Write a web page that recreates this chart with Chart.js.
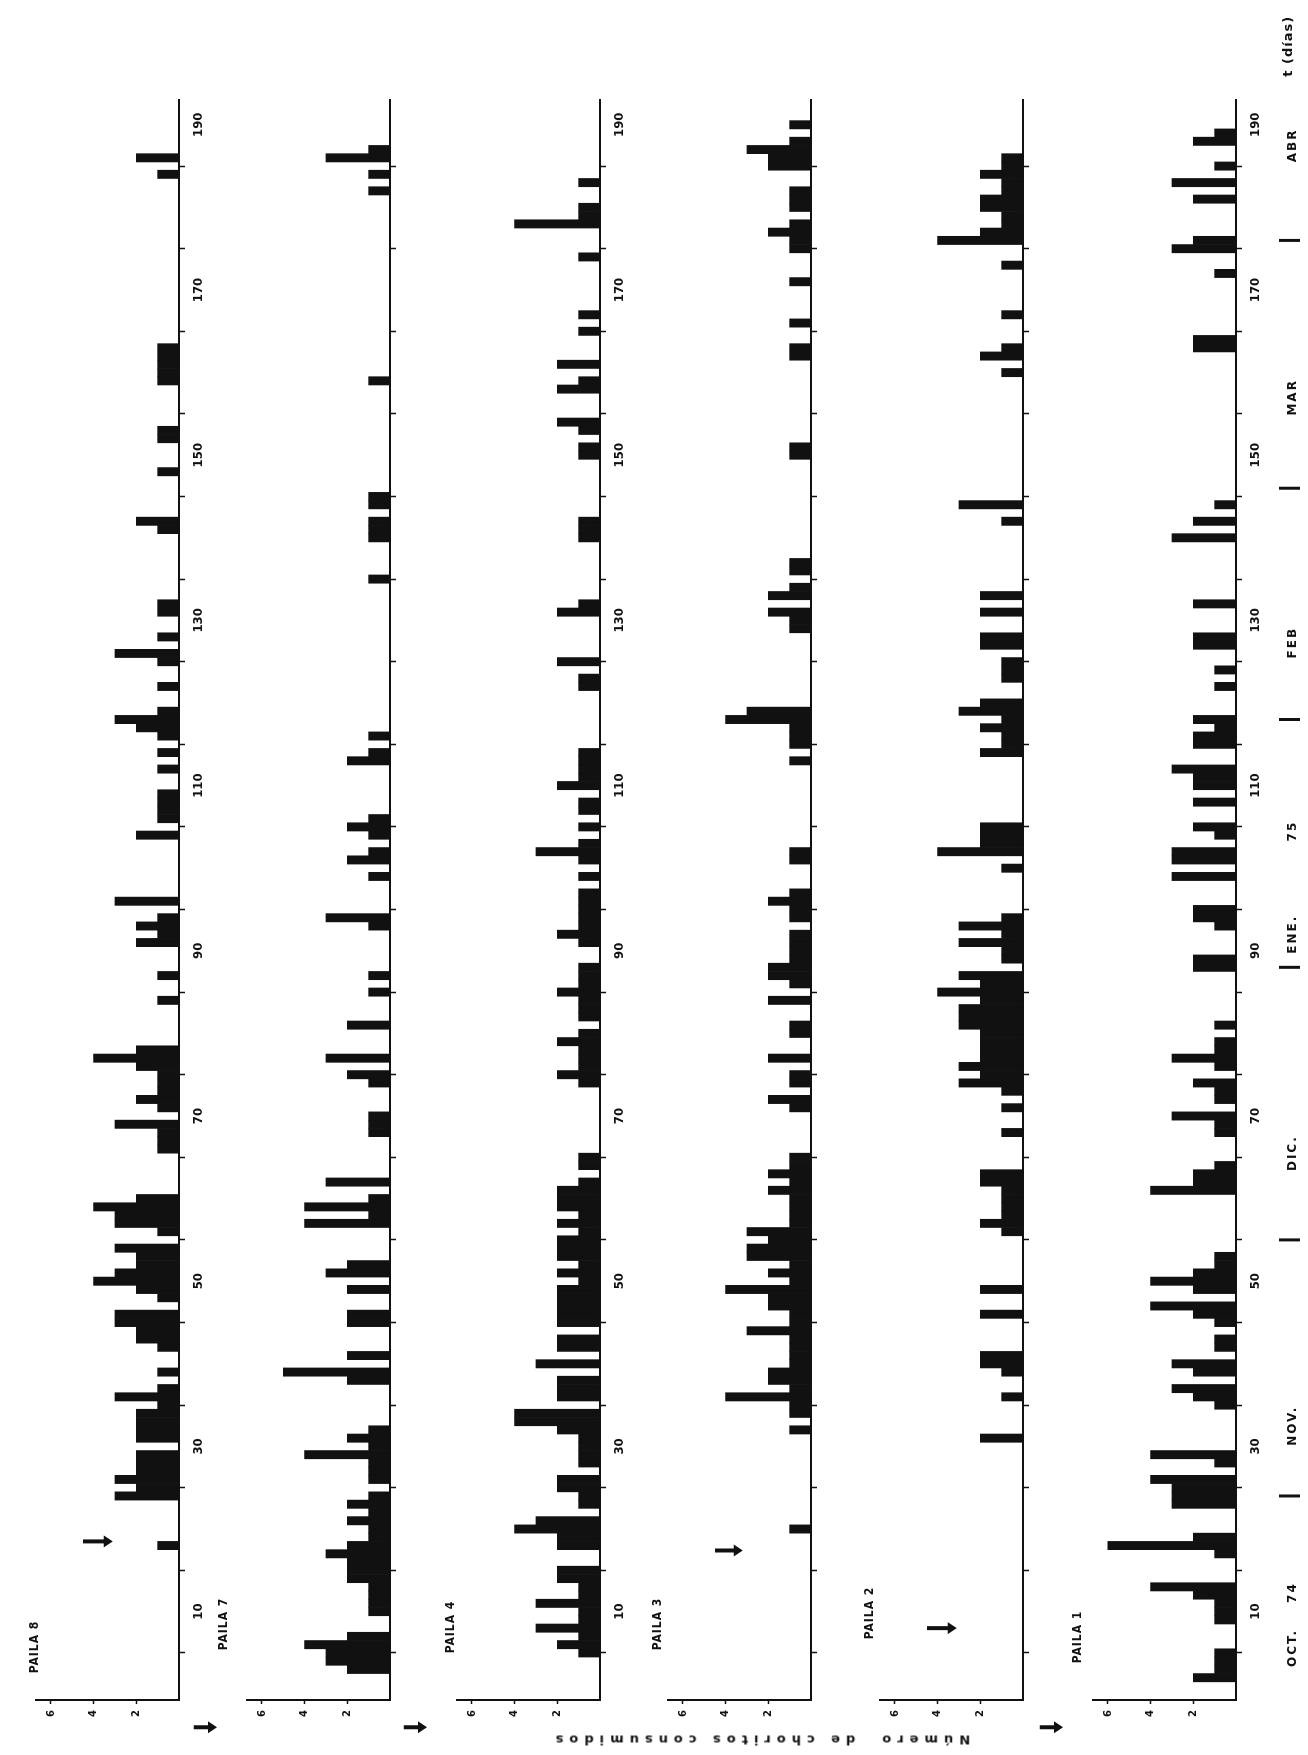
<!DOCTYPE html>
<html><head><meta charset="utf-8">
<script src="https://cdn.jsdelivr.net/npm/chart.js@4.4.0/dist/chart.umd.min.js"></script>
<style>
html,body{margin:0;padding:0;background:#fff;width:1308px;height:1755px;overflow:hidden;}
#frame{position:absolute;left:0;top:0;width:1755px;height:1308px;transform-origin:0 0;transform:translateY(1755px) rotate(-90deg);}
#frame canvas{position:absolute;left:0;}
.lbl{position:absolute;font:bold 12px "Liberation Sans Narrow","DejaVu Sans Condensed","DejaVu Sans",sans-serif;color:#111;white-space:nowrap;transform:translate(-50%,-50%);letter-spacing:1px;}
.ytitle{position:absolute;font:bold 13px "DejaVu Sans",sans-serif;color:#111;white-space:pre;letter-spacing:6px;transform:translate(-50%,-50%) rotate(-90deg);}
</style></head><body><div id="frame"></div>
<script>
// ---- data: [day, number of mussels consumed] ----
const paila8 = [[18,1],[24,3],[25,2],[26,3],[27,2],[28,2],[29,2],[31,2],[32,2],[33,2],[34,2],[35,1],[36,3],[37,1],[39,1],[42,1],[43,2],[44,2],[45,3],[46,3],[48,1],[49,2],[50,4],[51,3],[52,2],[53,2],[54,3],[56,1],[57,3],[58,3],[59,4],[60,2],[66,1],[67,1],[68,1],[69,3],[71,1],[72,2],[73,1],[74,1],[75,1],[76,2],[77,4],[78,2],[84,1],[87,1],[91,2],[92,1],[93,2],[94,1],[96,3],[104,2],[106,1],[107,1],[108,1],[109,1],[112,1],[114,1],[116,1],[117,2],[118,3],[119,1],[122,1],[125,1],[126,3],[128,1],[131,1],[132,1],[141,1],[142,2],[148,1],[152,1],[153,1],[159,1],[160,1],[161,1],[162,1],[163,1],[184,1],[186,2]];
const paila7 = [[3,2],[4,3],[5,3],[6,4],[7,2],[10,1],[11,1],[12,1],[13,1],[14,2],[15,2],[16,2],[17,3],[18,2],[19,1],[20,1],[21,2],[22,1],[23,2],[24,1],[26,1],[27,1],[28,1],[29,4],[30,1],[31,2],[32,1],[38,2],[39,5],[41,2],[45,2],[46,2],[49,2],[51,3],[52,2],[57,4],[58,1],[59,4],[60,1],[62,3],[68,1],[69,1],[70,1],[74,1],[75,2],[77,3],[81,2],[85,1],[87,1],[93,1],[94,3],[99,1],[101,2],[102,1],[104,1],[105,2],[106,1],[113,2],[114,1],[116,1],[135,1],[140,1],[141,1],[142,1],[144,1],[145,1],[159,1],[182,1],[184,1],[186,3],[187,1]];
const paila4 = [[5,1],[6,2],[7,1],[8,3],[9,1],[10,1],[11,3],[12,1],[13,1],[14,2],[15,2],[18,2],[19,2],[20,4],[21,3],[23,1],[24,1],[25,2],[26,2],[28,1],[29,1],[30,1],[31,1],[32,2],[33,4],[34,4],[36,2],[37,2],[38,2],[40,3],[42,2],[43,2],[45,2],[46,2],[47,2],[48,2],[49,2],[50,1],[51,2],[52,1],[53,2],[54,2],[55,2],[56,1],[57,2],[58,1],[59,2],[60,2],[61,2],[62,1],[64,1],[65,1],[74,1],[75,2],[76,1],[77,1],[78,1],[79,2],[80,1],[82,1],[83,1],[84,1],[85,2],[86,1],[87,1],[88,1],[91,1],[92,2],[93,1],[94,1],[95,1],[96,1],[97,1],[99,1],[101,1],[102,3],[103,1],[105,1],[107,1],[108,1],[110,2],[111,1],[112,1],[113,1],[114,1],[122,1],[123,1],[125,2],[131,2],[132,1],[140,1],[141,1],[142,1],[150,1],[151,1],[153,1],[154,2],[158,2],[159,1],[161,2],[165,1],[167,1],[174,1],[178,4],[179,1],[180,1],[183,1]];
const paila3 = [[20,1],[32,1],[34,1],[35,1],[36,4],[37,1],[38,2],[39,2],[40,1],[41,1],[42,1],[43,1],[44,3],[45,1],[46,1],[47,2],[48,2],[49,4],[50,1],[51,2],[52,1],[53,3],[54,3],[55,2],[56,3],[57,1],[58,1],[59,1],[60,1],[61,2],[62,1],[63,2],[64,1],[65,1],[71,1],[72,2],[74,1],[75,1],[77,2],[80,1],[81,1],[84,2],[86,1],[87,2],[88,2],[89,1],[90,1],[91,1],[92,1],[94,1],[95,1],[96,2],[97,1],[101,1],[102,1],[113,1],[115,1],[116,1],[117,1],[118,4],[119,3],[129,1],[130,1],[131,2],[133,2],[134,1],[136,1],[137,1],[150,1],[151,1],[162,1],[163,1],[166,1],[171,1],[175,1],[176,1],[177,2],[178,1],[180,1],[181,1],[182,1],[185,2],[186,2],[187,3],[188,1],[190,1]];
const paila2 = [[31,2],[36,1],[39,1],[40,2],[41,2],[46,2],[49,2],[56,1],[57,2],[58,1],[59,1],[60,1],[61,1],[62,2],[63,2],[68,1],[71,1],[73,1],[74,3],[75,2],[76,3],[77,2],[78,2],[79,2],[80,2],[81,3],[82,3],[83,3],[84,2],[85,4],[86,2],[87,3],[89,1],[90,1],[91,3],[92,1],[93,3],[94,1],[100,1],[102,4],[103,2],[104,2],[105,2],[114,2],[115,1],[116,1],[117,2],[118,1],[119,3],[120,2],[123,1],[124,1],[125,1],[127,2],[128,2],[131,2],[133,2],[142,1],[144,3],[160,1],[162,2],[163,1],[167,1],[173,1],[176,4],[177,2],[178,1],[179,1],[180,2],[181,2],[182,1],[183,1],[184,2],[185,1],[186,1]];
const paila1 = [[2,2],[3,1],[4,1],[5,1],[9,1],[10,1],[11,1],[12,2],[13,4],[17,1],[18,6],[19,2],[23,3],[24,3],[25,3],[26,4],[28,1],[29,4],[35,1],[36,2],[37,3],[39,2],[40,3],[42,1],[43,1],[45,1],[46,2],[47,4],[49,2],[50,4],[51,2],[52,1],[53,1],[61,4],[62,2],[63,2],[64,1],[68,1],[69,1],[70,3],[72,1],[73,1],[74,2],[76,1],[77,3],[78,1],[79,1],[81,1],[88,2],[89,2],[93,1],[94,2],[95,2],[99,3],[101,3],[102,3],[104,1],[105,2],[108,2],[110,2],[111,2],[112,3],[115,2],[116,2],[117,1],[118,2],[122,1],[124,1],[127,2],[128,2],[132,2],[140,3],[142,2],[144,1],[163,2],[164,2],[172,1],[175,3],[176,2],[181,2],[183,3],[185,1],[188,2],[189,1]];

// ---- axes / ticks ----
const dayTicks = [10,20,30,40,50,60,70,80,90,100,110,120,130,140,150,160,170,180,190];
const dayTickLabels = [10,30,50,70,90,110,130,150,170,190];
const valueTicks = [2,4,6];
const panelNames = ['PAILA 8','PAILA 7','PAILA 4','PAILA 3','PAILA 2','PAILA 1'];

// ---- annotations (arrows: day, tail value, head value) ----
const arrowsP8 = [{day:18.5, from:4.5, to:3.1}];
const arrowsP7 = [{day:-4, from:9.2, to:8.1}];
const arrowsP4 = [{day:-4, from:9.2, to:8.1}];
const arrowsP3 = [{day:17.4, from:4.5, to:3.2}];
const arrowsP2 = [{day:8, from:4.5, to:3.1}];
const arrowsP1 = [{day:-4, from:9.2, to:8.1}];

// ---- month strip (calendar) ----
const monthNames = ['OCT.','74','NOV.','DIC.','ENE.','75','FEB','MAR','ABR'];
const monthCenters = [5.6,12.3,32.5,65.5,92,104.5,127.3,157,187.5];
const monthBreaks = [24,55,88,118,146,176];

// ---- layout (frame before rotation: 1755 x 1308) ----
const DAY_MIN = -0.7, DAY_MAX = 193, VAL_MAX = 6.7;
const layoutPanels = [
  {data:paila8, arrows:arrowsP8, base:179, labels:true, h:260, name:[108,34]},
  {data:paila7, arrows:arrowsP7, base:390, labels:false, h:260, name:[131,223]},
  {data:paila4, arrows:arrowsP4, base:600, labels:true, h:260, name:[128,450]},
  {data:paila3, arrows:arrowsP3, base:811, labels:false, h:260, name:[131,657]},
  {data:paila2, arrows:arrowsP2, base:1023, labels:false, h:260, name:[142,869]},
  {data:paila1, arrows:arrowsP1, base:1236, labels:true, h:277, name:[118,1077], months:true}
];
const INK = '#111';

function drawArrow(ctx, x, y1, y2){
  const dir = Math.sign(y2-y1)||1;
  const headLen = 9, headW = 6, shaft = 2;
  const yh = y2 - dir*headLen;
  ctx.beginPath();
  ctx.moveTo(x-shaft, y1); ctx.lineTo(x+shaft, y1); ctx.lineTo(x+shaft, yh);
  ctx.lineTo(x+headW, yh); ctx.lineTo(x, y2); ctx.lineTo(x-headW, yh);
  ctx.lineTo(x-shaft, yh); ctx.closePath(); ctx.fill();
}

const annotPlugin = {
  id:'annot',
  afterDraw(chart, args, opts){
    const {ctx} = chart; const xs = chart.scales.x, ys = chart.scales.y;
    ctx.save(); ctx.fillStyle = INK; ctx.strokeStyle = INK;
    (opts.arrows||[]).forEach(a=>drawArrow(ctx, xs.getPixelForValue(a.day), ys.getPixelForValue(a.from), ys.getPixelForValue(a.to)));
    if(opts.months){
      const yb = chart.chartArea.bottom;
      ctx.font = 'bold 12px "DejaVu Sans", sans-serif';
      try{ ctx.letterSpacing = '2px'; }catch(e){}
      ctx.textAlign = 'center'; ctx.textBaseline = 'middle';
      monthNames.forEach((m,i)=>ctx.fillText(m, xs.getPixelForValue(monthCenters[i]), yb+57));
      ctx.lineWidth = 3;
      monthBreaks.forEach(d=>{const px = xs.getPixelForValue(d); ctx.beginPath(); ctx.moveTo(px, yb+43); ctx.lineTo(px, yb+64); ctx.stroke();});
      try{ ctx.letterSpacing = '1px'; }catch(e){}
      ctx.font = 'bold 13px "DejaVu Sans", sans-serif';
      ctx.fillText('t (días)', xs.getPixelForValue(199.5), yb+53);
    }
    ctx.restore();
  }
};

const frame = document.getElementById('frame');
layoutPanels.forEach((p, idx)=>{
  const cv = document.createElement('canvas');
  const top = p.base - 205;
  cv.width = 1755; cv.height = p.h;
  cv.style.width = '1755px'; cv.style.height = p.h+'px'; cv.style.top = top+'px';
  frame.appendChild(cv);
  const axisH = p.h - 205;
  new Chart(cv, {
    type:'bar',
    data:{datasets:[{
      data: p.data.map(([d,v])=>({x:d, y:v})),
      backgroundColor: INK, borderWidth:0, barPercentage:1, categoryPercentage:1
    }]},
    options:{
      responsive:false, animation:false, devicePixelRatio:1, events:[],
      layout:{padding:{top:62, right:100, left:0, bottom:0}},
      plugins:{legend:{display:false}, tooltip:{enabled:false}, annot:{arrows:p.arrows, months:!!p.months}},
      scales:{
        x:{type:'linear', min:DAY_MIN, max:DAY_MAX, offset:false,
          afterBuildTicks:s=>{s.ticks = dayTicks.map(v=>({value:v}));},
          afterFit:s=>{s.height = axisH;},
          ticks:{autoSkip:false, maxRotation:0, minRotation:0, padding:6, color:INK,
            font:{family:'"DejaVu Sans Condensed","DejaVu Sans",sans-serif', size:13, weight:'bold'},
            callback:v=> (p.labels && dayTickLabels.includes(v)) ? String(v) : ''},
          grid:{drawOnChartArea:false, drawTicks:true, tickLength:6, tickWidth:1.5, color:INK},
          border:{display:true, color:INK, width:2}
        },
        y:{type:'linear', min:0, max:VAL_MAX,
          afterBuildTicks:s=>{s.ticks = valueTicks.map(v=>({value:v}));},
          afterFit:s=>{s.width = 55;},
          ticks:{padding:6, color:INK, font:{family:'"DejaVu Sans",sans-serif', size:10, weight:'bold'}},
          grid:{drawOnChartArea:false, drawTicks:true, tickLength:4, tickWidth:1.5, color:INK},
          border:{display:true, color:INK, width:2}
        }
      }
    },
    plugins:[annotPlugin]
  });
  const lb = document.createElement('div');
  lb.className = 'lbl'; lb.textContent = panelNames[idx];
  lb.style.left = p.name[0]+'px'; lb.style.top = p.name[1]+'px';
  frame.appendChild(lb);
});
const yt = document.createElement('div');
yt.className = 'ytitle'; yt.textContent = 'Número  de choritos consumidos';
yt.style.left = '15px'; yt.style.top = '760px';
frame.appendChild(yt);
</script>
</body></html>
